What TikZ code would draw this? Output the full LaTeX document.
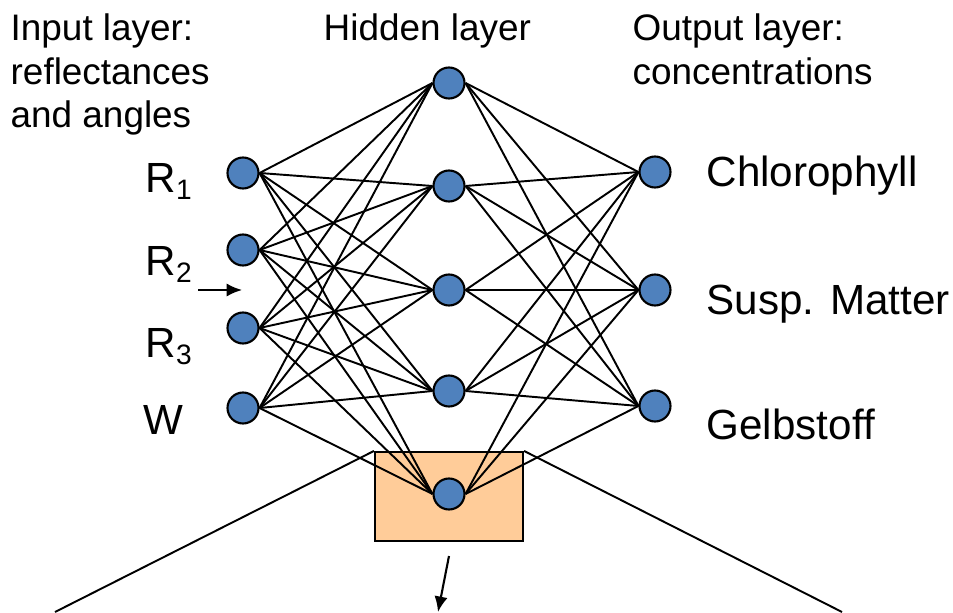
\documentclass[tikz,border=0pt]{standalone}
\usepackage{fontspec}
\setmainfont{Liberation Sans}
\usetikzlibrary{calc,positioning,arrows.meta}
\definecolor{neuronblue}{HTML}{4F81BD}
\definecolor{boxorange}{HTML}{FFCC99}

\begin{document}
\begin{tikzpicture}[x=1cm,y=1cm,
    neuron/.style={circle,draw,line width=0.6pt,fill=neuronblue,minimum size=0.31cm,inner sep=0pt},
    wire/.style={line width=0.55pt},
    pointer/.style={line width=0.6pt,-{Latex[length=4.4pt,width=3.8pt]}},
    headlabel/.style={anchor=base west,inner sep=0pt,font=\fontsize{10.5}{12.6}\selectfont},
    unitlabel/.style={anchor=base west,inner sep=0pt,font=\fontsize{12}{14.4}\selectfont}]
    \useasboundingbox (0,0) rectangle (9.53,6.12);
    % blow-up box round the last hidden neuron
    \node[draw,line width=0.6pt,fill=boxorange,minimum width=1.48cm,minimum height=0.89cm,inner sep=0pt] (zoombox) at (4.49,1.155) {};
    % input layer
    \node[neuron] (in1) at (2.43,4.39) {};
    \node[neuron] (in2) at (2.43,3.62) {};
    \node[neuron] (in3) at (2.43,2.84) {};
    \node[neuron] (in4) at (2.43,2.04) {};
    % hidden layer
    \node[neuron] (hid1) at (4.49,5.29) {};
    \node[neuron] (hid2) at (4.49,4.26) {};
    \node[neuron] (hid3) at (4.49,3.22) {};
    \node[neuron] (hid4) at (4.49,2.21) {};
    \node[neuron] (hid5) at (4.49,1.18) {};
    % output layer
    \node[neuron] (out1) at (6.55,4.40) {};
    \node[neuron] (out2) at (6.55,3.22) {};
    \node[neuron] (out3) at (6.55,2.06) {};
    \foreach \i in {1,...,4}
      \foreach \h in {1,...,5}
        \draw[wire] (in\i.east) -- (hid\h.west);
    \foreach \h in {1,...,5}
      \foreach \o in {1,2,3}
        \draw[wire] (hid\h.east) -- (out\o.west);
    % headings
    \node[headlabel] (inhead1) at (0.10,5.71) {Input layer:};
    \node[headlabel] (inhead2) at (0.10,5.27) {reflectances};
    \node[headlabel] (inhead3) at (0.10,4.84) {and angles};
    \node[headlabel] (hidhead) at (3.23,5.71) {Hidden layer};
    \node[headlabel] (outhead1) at (6.32,5.71) {Output layer:};
    \node[headlabel] (outhead2) at (6.32,5.27) {concentrations};
    % unit names
    \node[unitlabel] (inname1) at (1.45,4.19) {R\textsubscript{1}};
    \node[unitlabel] (inname2) at (1.45,3.36) {R\textsubscript{2}};
    \node[unitlabel] (inname3) at (1.45,2.54) {R\textsubscript{3}};
    \node[unitlabel] (inname4) at (1.43,1.77) {W};
    \node[unitlabel] (outname1) at (7.06,4.25) {Chlorophyll};
    \node[unitlabel] (outname2) at (7.06,2.97) {Susp. Matter};
    \node[unitlabel] (outname3) at (7.06,1.72) {Gelbstoff};
    % zoom lines
    \coordinate (zoomleft) at (0.55,0);
    \coordinate (zoomright) at (8.42,0);
    \draw[wire] (zoombox.north west) -- (zoomleft);
    \draw[wire] (zoombox.north east) -- (zoomright);
    % arrows
    \coordinate (sidetail) at (1.98,3.22);
    \coordinate (sidetip) at (2.42,3.22);
    \draw[pointer] (sidetail) -- (sidetip);
    \coordinate (downtail) at (4.49,0.56);
    \coordinate (downtip) at (4.38,0);
    \draw[pointer] (downtail) -- (downtip);
\end{tikzpicture}
\end{document}
